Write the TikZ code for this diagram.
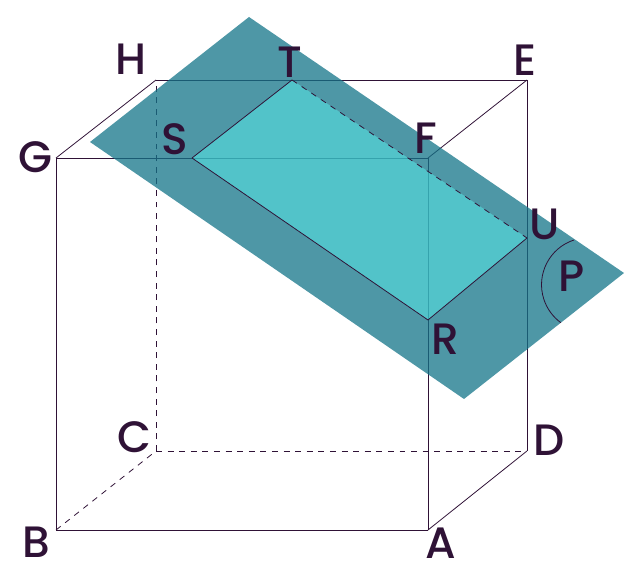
\documentclass[tikz,border=0pt]{standalone}
\usepackage{fontspec}
\setmainfont{Poppins Medium}
\definecolor{edgeink}{HTML}{2F1236}
\definecolor{planeteal}{HTML}{137488}
\definecolor{cutaqua}{HTML}{57FBF4}
\tikzset{
    edge/.style = {draw=edgeink, line width=0.45pt},
    hidden/.style = {edge, dash pattern=on 3.4pt off 3.2pt},
    letter/.style = {text=edgeink, font=\fontsize{25}{25}\selectfont, inner sep=0pt}
}
\begin{document}
\begin{tikzpicture}[x=0.02cm, y=0.02cm]
    \useasboundingbox (0,0) rectangle (633,577);
    \coordinate (A) at (428,47);
    \coordinate (B) at (56,47);
    \coordinate (C) at (156,126);
    \coordinate (D) at (527,126);
    \coordinate (E) at (527,497);
    \coordinate (F) at (428,419);
    \coordinate (G) at (56,419);
    \coordinate (H) at (156,497);
    \coordinate (R) at (428,257);
    \coordinate (S) at (192,419);
    \coordinate (T) at (292,497);
    \coordinate (U) at (527,339);
    \coordinate (p1) at (249,560);
    \coordinate (p2) at (90,435);
    \coordinate (p3) at (464,178);
    \coordinate (p4) at (624,304);
    \coordinate (arcstart) at (574,337);
    % cube first, the plane lies over it
    \foreach \from/\to in {A/B, B/G, G/F, F/A, A/D, D/E, E/H, H/G, E/F}
        \draw[edge] (\from) -- (\to);
    \foreach \from/\to in {B/C, C/D, C/H}
        \draw[hidden] (\from) -- (\to);
    \fill[planeteal, fill opacity=0.75] (p1) -- (p2) -- (p3) -- (p4) -- cycle;
    \fill[cutaqua, fill opacity=0.45] (S) -- (T) -- (U) -- (R) -- cycle;
    \foreach \from/\to in {S/T, S/R, R/U}
        \draw[edge] (\from) -- (\to);
    \draw[hidden] (T) -- (U);
    \draw[edge] (arcstart) arc[start angle=108, end angle=234, radius=47];
    \node[letter] (la) at (441,34) {A};
    \node[letter] (lb) at (36,35) {B};
    \node[letter] (lc) at (134,140) {C};
    \node[letter] (ld) at (549,137) {D};
    \node[letter] (le) at (525,517) {E};
    \node[letter] (lf) at (426,439) {F};
    \node[letter] (lg) at (35,420) {G};
    \node[letter] (lh) at (131,518) {H};
    \node[letter] (lp) at (572,301) {P};
    \node[letter] (lr) at (445,238) {R};
    \node[letter] (ls) at (175,438) {S};
    \node[letter] (lt) at (290,515) {T};
    \node[letter] (lu) at (545,353) {U};
\end{tikzpicture}
\end{document}
